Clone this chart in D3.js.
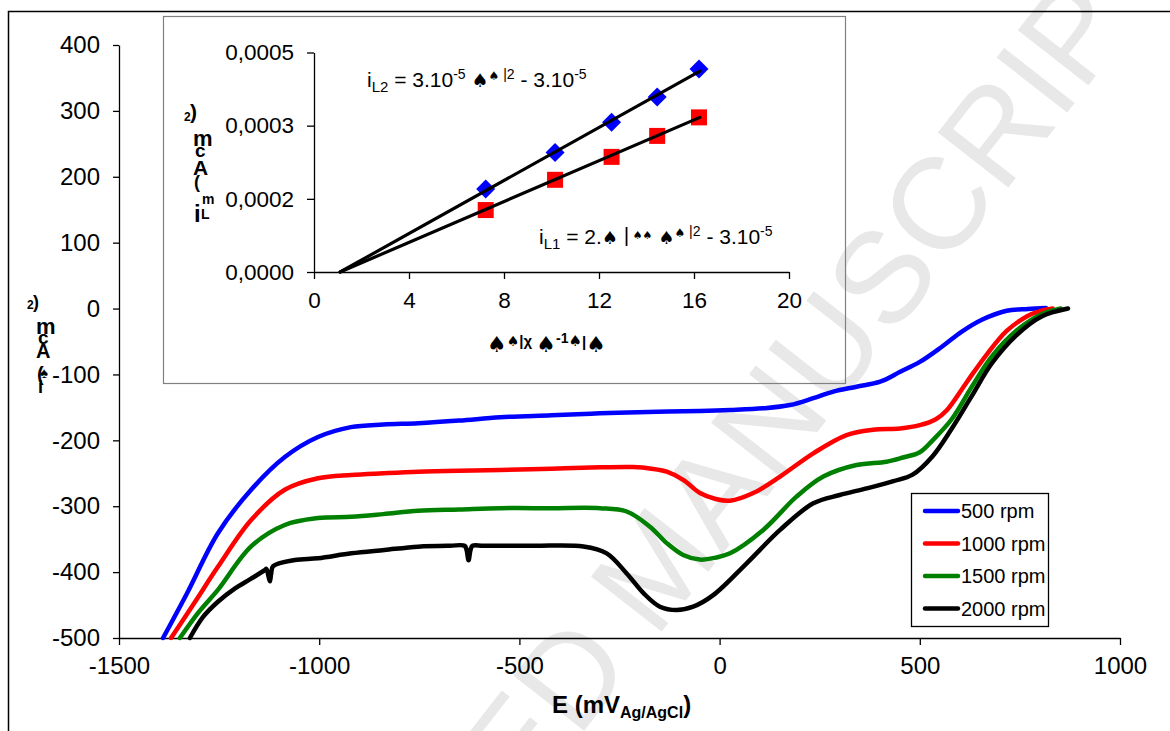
<!DOCTYPE html>
<html><head><meta charset="utf-8">
<script src="https://cdn.jsdelivr.net/npm/d3@7"></script>
<style>
html,body{margin:0;padding:0;background:#fff;}
svg{display:block;}
text{font-family:"Liberation Sans",Arial,sans-serif;}
</style></head>
<body>
<svg id="chart" width="1170" height="731"></svg>
<script>
// ---------------- DATA ----------------
const seriesNames = ["500 rpm", "1000 rpm", "1500 rpm", "2000 rpm"];
const seriesColors = ["#0000ff", "#ff0000", "#008000", "#000000"];

const e500 = [-1390,-1330,-1253,-1170,-1085,-1003,-921,-840,-753,-650,-548,-420,-299,-180,-49,26,109,176,234,284,342,401,451,500,555,605,655,717,770,815];
const i500 = [-500,-432,-341,-275,-225,-195,-180,-176,-174,-170,-165,-162,-159,-157,-155.5,-154,-151.4,-146.4,-136,-126,-118.6,-111,-96,-81,-58,-35,-17,-3.3,-0.5,1];

const e1000 = [-1370,-1310,-1253,-1170,-1086,-1003,-920,-840,-753,-650,-548,-420,-299,-216,-170,-132,-91,-49,-10,26,84,151,234,317,383,451,500,540,568,618,668,717,767,800,832];
const i1000 = [-500,-445,-392,-321,-275,-257.6,-252.6,-250,-247.6,-246,-245,-243,-241,-240.5,-243,-247.6,-260,-280,-289,-291.6,-280,-255,-219.7,-192,-184,-182,-177,-168,-154,-111,-69,-34,-12,-4,0];

const e1500 = [-1348,-1300,-1253,-1170,-1086,-1003,-920,-840,-753,-650,-548,-420,-299,-232,-174,-132,-91,-49,-10,26,109,192,259,342,417,458,500,532,580,630,680,741,803,852];
const i1500 = [-500,-460,-427,-361,-328.5,-318,-316,-312,-307,-305,-303,-303,-303,-308,-331,-356,-374,-381,-378,-371.5,-336,-285.5,-255,-237.5,-232.4,-226,-218,-200,-167.6,-118.5,-72.5,-33.6,-8.9,0];

const e2000 = [-1323,-1290,-1253,-1211,-1170,-1136,-1132,-1126,-1123,-1120,-1115,-1061,-1003,-920,-837,-753,-673,-637,-632,-627,-622,-617,-590,-465,-340,-282,-232,-190,-149,-107,-66,-16,67,151,234,300,367,434,482,532,580,630,680,741,803,870];
const i2000 = [-500,-468,-445,-425,-410,-397,-395,-408,-414,-402,-391,-381.6,-379,-371.5,-366.4,-361.4,-360,-360,-366,-382,-366,-360,-360,-360,-361,-371.5,-402,-432,-452.5,-457.5,-452.5,-435,-387,-336,-295.6,-283,-273,-262,-252,-224,-182,-132.5,-83,-40.6,-12.3,0];

const xTicks = [-1500,-1000,-500,0,500,1000];
const yTicks = [-500,-400,-300,-200,-100,0,100,200,300,400];

// inset (Levich plot)
const omegaSqrt = [7.23,10.15,12.53,14.45,16.21];
const iL2 = [0.000170,0.000245,0.000307,0.000359,0.000416];
const iL1 = [0.000127,0.000189,0.000236,0.000279,0.000317];
const fitX = [1.1,16.25];
const fitL2 = [0,0.000412];
const fitL1 = [0,0.000317];
const insetXTicks = [0,4,8,12,16,20];
const insetYTicks = [0,0.00015,0.0003,0.00045];
const insetYLabels = ["0,0000","0,0002","0,0003","0,0005"];

// ---------------- DRAW ----------------
const svg = d3.select("#chart");
const FONT = '"Liberation Sans",Arial,sans-serif';
const SYM = '"DejaVu Sans",sans-serif';

// watermark
const wm = svg.append("g").attr("fill","#e8e8e8").style("font-family",'"Liberation Serif","Times New Roman",serif').style("font-size","130px");
wm.append("text").attr("transform","translate(655,640) rotate(-52)").attr("text-anchor","start").text("MANUSCRIPT");
wm.append("text").attr("transform","translate(655,640) rotate(-52) translate(-32,0)").attr("text-anchor","end").text("ACCEPTED");

// outer frame
svg.append("rect").attr("x",8.5).attr("y",11.5).attr("width",1180).attr("height",740)
  .attr("fill","none").attr("stroke","#000").attr("stroke-width",1.5);

const x = d3.scaleLinear([-1500,1000],[119,1120]);
const y = d3.scaleLinear([-500,400],[638,45]);

const gx = svg.append("g").attr("transform","translate(0,638)")
  .call(d3.axisBottom(x).tickValues(xTicks).tickSize(7).tickSizeOuter(0).tickPadding(12).tickFormat(d3.format("d")));
const gy = svg.append("g").attr("transform","translate(119,0)")
  .call(d3.axisLeft(y).tickValues(yTicks).tickSize(6).tickSizeOuter(0).tickPadding(13).tickFormat(d3.format("d")));
[gx,gy].forEach(g=>{
  g.selectAll("text").attr("font-family",FONT).attr("font-size",24).attr("fill","#000");
  g.selectAll("path,line").attr("stroke","#000").attr("stroke-width",1.3);
});
gx.selectAll("text").text(d=>d<0?"-"+Math.abs(d):d);
gy.selectAll("text").text(d=>d<0?"-"+Math.abs(d):d);

// curves
const allE = [e500,e1000,e1500,e2000];
const allI = [i500,i1000,i1500,i2000];
const line = d3.line().x(d=>x(d[0])).y(d=>y(d[1])).curve(d3.curveCatmullRom.alpha(0.5));
const plot = svg.append("g");
allE.forEach((E,k)=>{
  const pts = E.map((e,j)=>[e,allI[k][j]]);
  plot.append("path").attr("d",line(pts)).attr("fill","none")
    .attr("stroke",seriesColors[k]).attr("stroke-width",4.5)
    .attr("stroke-linejoin","round").attr("stroke-linecap","round");
});

// x axis title
const xt = svg.append("text").attr("x",552).attr("y",713).attr("font-weight","bold").attr("font-size",24).attr("fill","#000");
xt.append("tspan").text("E (mV");
xt.append("tspan").attr("font-size",16).attr("y",718).text("Ag/AgCl");
xt.append("tspan").attr("y",713).text(")");

// y axis garbled title
const yl = svg.append("g").attr("font-weight","bold").attr("fill","#000");
[["2",27,309,12,FONT],[")",33,308,18,FONT],["m",36,334,22,FONT],["c",38,344,19,FONT],["A",36,358,20,FONT],["(",37,381,20,FONT],["♠",40,378,15,SYM],["i",38,393,18,FONT]]
  .forEach(([t,xx,yy,fs,ff])=>yl.append("text").attr("x",xx).attr("y",yy).attr("font-size",fs).attr("font-family",ff).text(t));

// legend
const lg = svg.append("g");
lg.append("rect").attr("x",911.5).attr("y",493.5).attr("width",137).attr("height",133)
  .attr("fill","#fff").attr("stroke","#000").attr("stroke-width",1.3);
seriesNames.forEach((n,k)=>{
  const yy = 511 + k*32.5;
  lg.append("line").attr("x1",925).attr("x2",958).attr("y1",yy).attr("y2",yy)
    .attr("stroke",seriesColors[k]).attr("stroke-width",4.5).attr("stroke-linecap","round");
  lg.append("text").attr("x",961).attr("y",yy+7).attr("font-size",20).attr("fill","#000").text(n);
});

// ---------------- INSET ----------------
const ins = svg.append("g");
ins.append("rect").attr("x",163.5).attr("y",16.5).attr("width",682).attr("height",367)
  .attr("fill","none").attr("stroke","#808080").attr("stroke-width",1.2);
const ix = d3.scaleLinear([0,20],[314,789]);
const iy = d3.scaleLinear([0,0.00045],[272,52.5]);
const igx = ins.append("g").attr("transform","translate(0,272)")
  .call(d3.axisBottom(ix).tickValues(insetXTicks).tickSize(7).tickSizeOuter(0).tickPadding(13).tickFormat(d3.format("d")));
const igy = ins.append("g").attr("transform","translate(314,0)")
  .call(d3.axisLeft(iy).tickValues(insetYTicks).tickSize(7).tickSizeOuter(0).tickPadding(13).tickFormat((d,i)=>insetYLabels[i]));
[igx,igy].forEach(g=>{
  g.selectAll("text").attr("font-family",FONT).attr("font-size",22.5).attr("fill","#000");
  g.selectAll("path,line").attr("stroke","#000").attr("stroke-width",1.3);
});

// markers
ins.selectAll(".sq").data(omegaSqrt).enter().append("rect")
  .attr("x",(d)=>ix(d)-8).attr("y",(d,i)=>iy(iL1[i])-8).attr("width",16).attr("height",16).attr("fill","#ff0000");
ins.selectAll(".dm").data(omegaSqrt).enter().append("path")
  .attr("d",(d,i)=>{const cx=ix(d),cy=iy(iL2[i]),r=9.5;return `M${cx},${cy-r}L${cx+r},${cy}L${cx},${cy+r}L${cx-r},${cy}Z`;})
  .attr("fill","#0000ff");
// fit lines
ins.append("line").attr("x1",ix(fitX[0])).attr("y1",iy(fitL2[0])).attr("x2",ix(fitX[1])).attr("y2",iy(fitL2[1]))
  .attr("stroke","#000").attr("stroke-width",3.2).attr("stroke-linecap","round");
ins.append("line").attr("x1",ix(fitX[0])).attr("y1",iy(fitL1[0])).attr("x2",ix(fitX[1])).attr("y2",iy(fitL1[1]))
  .attr("stroke","#000").attr("stroke-width",3.2).attr("stroke-linecap","round");

// equations
function rich(g, x0, base, parts, fsBase){
  const t = g.append("text").attr("x",x0).attr("y",base).attr("fill","#000").attr("font-size",fsBase||21);
  parts.forEach(([s,fs,dy,sym])=>{
    const ts = t.append("tspan").attr("font-size",fs).attr("y",base+dy).text(s);
    if(sym) ts.attr("font-family",SYM);
  });
  return t;
}
rich(ins,367,87,[["i",21,0],["L2",15,5],[" = 3.10",21,0],["-5",14,-8],[" ",21,0],["♠",19,0,1],["♠",12,-7,1],[" |2",14,-8],[" - 3.10",21,0],["-5",14,-8]]);
rich(ins,539,244,[["i",21,0],["L1",15,5],[" = 2.",21,0],["♠",18,0,1],["  |",21,-2],["  ♠♠",11,-5,1],[" ",21,0],["♠",18,0,1],["♠",12,-7,1],[" |2",14,-8],[" - 3.10",21,0],["-5",14,-8]]);

// inset x title (garbled)
rich(ins,487,352,[["♠",22,0,1],["♠",14,-6,1],["|χ",15,-6],[" ",15,0],["♠",22,0,1],["-1",14,-9],["♠",15,-6,1],["|",15,-5],["♠",22,0,1]]).attr("font-weight","bold");

// inset y title (garbled)
const iyl = ins.append("g").attr("font-weight","bold").attr("fill","#000");
[["2",184,121,12],[")",190,119,21],["m",193,146,22],["c",195,157,19],["A",193,175,21],["(",194,188,18],["i",194,222,24],["L",201,219,14],["m",202,204,14]]
  .forEach(([t,xx,yy,fs])=>iyl.append("text").attr("x",xx).attr("y",yy).attr("font-size",fs).text(t));
</script>
</body></html>
